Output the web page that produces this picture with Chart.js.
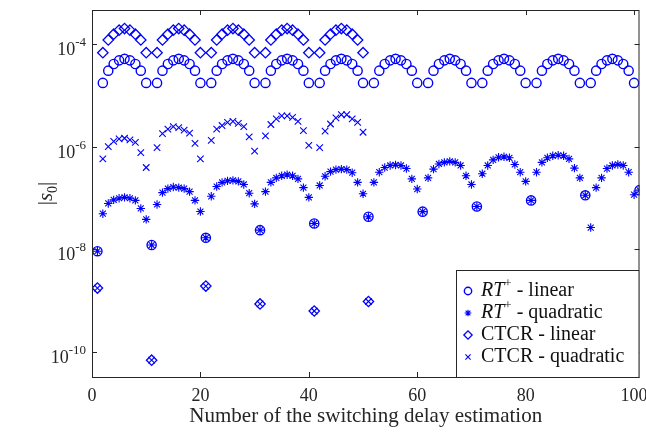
<!DOCTYPE html>
<html>
<head>
<meta charset="utf-8">
<script src="https://cdn.jsdelivr.net/npm/chart.js@4.4.1/dist/chart.umd.min.js"></script>
<style>
  html, body { margin: 0; padding: 0; background: #fff; }
</style>
</head>
<body>
<canvas id="delayChart" width="646" height="438"></canvas>
<script>
// tick positions
const xTicks = [0, 20, 40, 60, 80, 100];
const yTickExp = [-10, -8, -6, -4];

// RT+ linear, estimations 1..101
const rtLinear = [
  9.1e-9,
  1.74e-5, 3.02e-5, 4.07e-5, 4.79e-5, 5.13e-5, 4.79e-5, 4.07e-5, 3.02e-5, 1.74e-5,
  1.2e-8,
  1.74e-5, 3.02e-5, 4.07e-5, 4.79e-5, 5.13e-5, 4.79e-5, 4.07e-5, 3.02e-5, 1.74e-5,
  1.66e-8,
  1.74e-5, 3.02e-5, 4.07e-5, 4.79e-5, 5.13e-5, 4.79e-5, 4.07e-5, 3.02e-5, 1.74e-5,
  2.34e-8,
  1.74e-5, 3.02e-5, 4.07e-5, 4.79e-5, 5.13e-5, 4.79e-5, 4.07e-5, 3.02e-5, 1.74e-5,
  3.16e-8,
  1.74e-5, 3.02e-5, 4.07e-5, 4.79e-5, 5.13e-5, 4.79e-5, 4.07e-5, 3.02e-5, 1.74e-5,
  4.27e-8,
  1.74e-5, 3.02e-5, 4.07e-5, 4.79e-5, 5.13e-5, 4.79e-5, 4.07e-5, 3.02e-5, 1.74e-5,
  5.37e-8,
  1.74e-5, 3.02e-5, 4.07e-5, 4.79e-5, 5.13e-5, 4.79e-5, 4.07e-5, 3.02e-5, 1.74e-5,
  6.76e-8,
  1.74e-5, 3.02e-5, 4.07e-5, 4.79e-5, 5.13e-5, 4.79e-5, 4.07e-5, 3.02e-5, 1.74e-5,
  8.9e-8,
  1.74e-5, 3.02e-5, 4.07e-5, 4.79e-5, 5.13e-5, 4.79e-5, 4.07e-5, 3.02e-5, 1.74e-5,
  1.12e-7,
  1.74e-5, 3.02e-5, 4.07e-5, 4.79e-5, 5.13e-5, 4.79e-5, 4.07e-5, 3.02e-5, 1.74e-5,
  1.41e-7
];

// RT+ quadratic, estimations 1..101
const rtQuadratic = [
  9.1e-9,
  4.9e-8, 7.76e-8, 9.1e-8, 9.8e-8, 1.02e-7, 9.8e-8, 8.9e-8, 6.2e-8, 3.8e-8,
  1.2e-8,
  7.4e-8, 1.26e-7, 1.51e-7, 1.62e-7, 1.58e-7, 1.51e-7, 1.32e-7, 8.9e-8, 5.4e-8,
  1.66e-8,
  1.07e-7, 1.66e-7, 2.0e-7, 2.14e-7, 2.19e-7, 2.09e-7, 1.82e-7, 1.23e-7, 7.6e-8,
  2.34e-8,
  1.32e-7, 2.0e-7, 2.45e-7, 2.69e-7, 2.82e-7, 2.69e-7, 2.34e-7, 1.58e-7, 1.02e-7,
  3.16e-8,
  1.74e-7, 2.63e-7, 3.24e-7, 3.55e-7, 3.63e-7, 3.55e-7, 3.09e-7, 2.0e-7, 1.2e-7,
  4.27e-8,
  2.0e-7, 3.16e-7, 3.89e-7, 4.27e-7, 4.37e-7, 4.27e-7, 3.72e-7, 2.34e-7, 1.48e-7,
  5.37e-8,
  2.45e-7, 3.63e-7, 4.57e-7, 4.9e-7, 5.13e-7, 4.9e-7, 4.27e-7, 2.69e-7, 1.82e-7,
  6.76e-8,
  2.95e-7, 4.27e-7, 5.5e-7, 6.17e-7, 6.31e-7, 6.03e-7, 4.47e-7, 3.16e-7, 2.09e-7,
  8.9e-8,
  3.16e-7, 4.9e-7, 6.03e-7, 6.6e-7, 6.76e-7, 6.6e-7, 5.75e-7, 3.8e-7, 2.45e-7,
  1.12e-7,
  2.63e-8, 1.58e-7, 2.45e-7, 3.72e-7, 4.27e-7, 4.47e-7, 4.27e-7, 3.16e-7, 1.15e-7,
  1.41e-7
];

// CTCR linear, estimations 1..51
const ctcrLinear = [
  1.74e-9,
  6.76e-5, 1.2e-4, 1.55e-4, 1.86e-4, 2.0e-4, 1.86e-4, 1.55e-4, 1.2e-4, 6.76e-5,
  6.8e-11,
  6.76e-5, 1.2e-4, 1.55e-4, 1.86e-4, 2.0e-4, 1.86e-4, 1.55e-4, 1.2e-4, 6.76e-5,
  1.9e-9,
  6.76e-5, 1.2e-4, 1.55e-4, 1.86e-4, 2.0e-4, 1.86e-4, 1.55e-4, 1.2e-4, 6.76e-5,
  8.5e-10,
  6.76e-5, 1.2e-4, 1.55e-4, 1.86e-4, 2.0e-4, 1.86e-4, 1.55e-4, 1.2e-4, 6.76e-5,
  6.2e-10,
  6.76e-5, 1.2e-4, 1.55e-4, 1.86e-4, 2.0e-4, 1.86e-4, 1.55e-4, 1.2e-4, 6.76e-5,
  9.5e-10
];

// CTCR quadratic, estimations 1..51
const ctcrQuadratic = [
  1.74e-9,
  5.75e-7, 1.0e-6, 1.26e-6, 1.41e-6, 1.45e-6, 1.35e-6, 1.2e-6, 7.6e-7, 3.9e-7,
  6.8e-11,
  9.5e-7, 1.78e-6, 2.19e-6, 2.45e-6, 2.34e-6, 2.09e-6, 1.82e-6, 1.15e-6, 5.75e-7,
  1.9e-9,
  1.32e-6, 2.19e-6, 2.57e-6, 2.95e-6, 3.09e-6, 2.82e-6, 2.45e-6, 1.55e-6, 8.1e-7,
  8.5e-10,
  1.62e-6, 2.69e-6, 3.47e-6, 3.98e-6, 3.98e-6, 3.72e-6, 3.09e-6, 2.04e-6, 1.05e-6,
  6.2e-10,
  9.5e-7, 2.0e-6, 2.75e-6, 3.63e-6, 4.17e-6, 4.17e-6, 3.47e-6, 2.95e-6, 1.9e-6,
  9.5e-10
];

const blue = 'rgb(0,0,255)';
const axisColor = '#262626';
const serif = '"Liberation Serif", "Times New Roman", serif';

const toPoints = arr => arr.map((v, i) => ({ x: i + 1, y: v }));

const seriesInfo = [
  { data: rtLinear, style: 'circle', r: 4.6, bw: 1.4, label: ['RT', '+', ' - linear'] },
  { data: rtQuadratic, style: 'star', r: 4.2, bw: 1.1, label: ['RT', '+', ' - quadratic'] },
  { data: ctcrLinear, style: 'rectRot', r: 5.2, bw: 1.3, label: ['', '', 'CTCR - linear'] },
  { data: ctcrQuadratic, style: 'crossRot', r: 4.6, bw: 1.1, label: ['', '', 'CTCR - quadratic'] }
];

// frame, ticks, labels and legend in MATLAB look
const matlabAxes = {
  id: 'matlabAxes',
  afterDraw(chart) {
    const { ctx, chartArea: a, scales: { x, y } } = chart;
    ctx.save();
    ctx.strokeStyle = axisColor;
    ctx.lineWidth = 1;
    ctx.strokeRect(a.left + 0.5, a.top + 0.5, a.right - a.left - 1, a.bottom - a.top);

    const tl = 5;
    ctx.beginPath();
    xTicks.forEach(t => {
      const px = Math.round(x.getPixelForValue(t)) + 0.5;
      ctx.moveTo(px, a.bottom); ctx.lineTo(px, a.bottom - tl);
      ctx.moveTo(px, a.top); ctx.lineTo(px, a.top + tl);
    });
    yTickExp.forEach(e => {
      const py = Math.round(y.getPixelForValue(Math.pow(10, e))) + 0.5;
      ctx.moveTo(a.left, py); ctx.lineTo(a.left + tl, py);
      ctx.moveTo(a.right, py); ctx.lineTo(a.right - tl, py);
    });
    ctx.stroke();

    ctx.fillStyle = axisColor;
    ctx.font = '18px ' + serif;
    ctx.textAlign = 'center';
    ctx.textBaseline = 'alphabetic';
    xTicks.forEach(t => {
      ctx.fillText(String(t), x.getPixelForValue(t), a.bottom + 24);
    });

    yTickExp.forEach(e => {
      const py = y.getPixelForValue(Math.pow(10, e));
      ctx.font = '13px ' + serif;
      const expTxt = '-' + Math.abs(e);
      const wExp = ctx.measureText(expTxt).width;
      ctx.font = '18px ' + serif;
      const wBase = ctx.measureText('10').width;
      const right = a.left - 6;
      ctx.textAlign = 'left';
      ctx.fillText('10', right - wExp - wBase, py + 11);
      ctx.font = '13px ' + serif;
      ctx.fillText(expTxt, right - wExp, py + 2);
    });

    // x title
    ctx.font = '21px ' + serif;
    ctx.textAlign = 'center';
    ctx.fillText('Number of the switching delay estimation', (a.left + a.right) / 2, a.bottom + 45);

    // y title |s0|
    ctx.save();
    ctx.translate(52, (a.top + a.bottom) / 2);
    ctx.rotate(-Math.PI / 2);
    ctx.textAlign = 'left';
    ctx.font = '21px ' + serif;
    const w1 = ctx.measureText('|').width;
    ctx.font = 'italic 21px ' + serif;
    const w2 = ctx.measureText('s').width;
    ctx.font = '14px ' + serif;
    const w3 = ctx.measureText('0').width;
    const total = w1 * 2 + w2 + w3;
    let cx = -total / 2;
    ctx.font = '21px ' + serif;
    ctx.fillText('|', cx, 0); cx += w1;
    ctx.font = 'italic 21px ' + serif;
    ctx.fillText('s', cx, 0); cx += w2;
    ctx.font = '14px ' + serif;
    ctx.fillText('0', cx, 5); cx += w3;
    ctx.font = '21px ' + serif;
    ctx.fillText('|', cx, 0);
    ctx.restore();

    // legend box
    const lb = { left: 456, top: 270, right: a.right, bottom: a.bottom };
    ctx.fillStyle = '#fff';
    ctx.fillRect(lb.left, lb.top, lb.right - lb.left, lb.bottom - lb.top);
    ctx.strokeStyle = axisColor;
    ctx.strokeRect(lb.left + 0.5, lb.top + 0.5, lb.right - lb.left - 1, lb.bottom - lb.top);

    const rowY = [291, 313, 335, 357];
    seriesInfo.forEach((s, i) => {
      const ry = rowY[i];
      ctx.strokeStyle = blue;
      ctx.fillStyle = 'rgba(0,0,0,0)';
      ctx.lineWidth = s.bw;
      Chart.helpers.drawPoint(ctx, { pointStyle: s.style, radius: s.r * 0.8, rotation: 0, borderWidth: s.bw }, 468, ry);
      ctx.fillStyle = '#111';
      ctx.textAlign = 'left';
      ctx.textBaseline = 'middle';
      let tx = 481;
      if (s.label[0]) {
        ctx.font = 'italic 20px ' + serif;
        ctx.fillText(s.label[0], tx, ry);
        tx += ctx.measureText(s.label[0]).width;
        ctx.font = '13px ' + serif;
        ctx.fillText(s.label[1], tx, ry - 7);
        tx += ctx.measureText(s.label[1]).width;
      }
      ctx.font = '20px ' + serif;
      ctx.fillText(s.label[2], tx, ry);
    });
    ctx.restore();
  }
};

new Chart(document.getElementById('delayChart'), {
  type: 'scatter',
  data: {
    datasets: seriesInfo.map(s => ({
      data: toPoints(s.data),
      showLine: false,
      pointStyle: s.style,
      pointRadius: s.r,
      pointHoverRadius: s.r,
      pointBorderWidth: s.bw,
      borderColor: blue,
      backgroundColor: 'rgba(0,0,0,0)',
      pointBackgroundColor: 'rgba(0,0,0,0)'
    }))
  },
  options: {
    responsive: false,
    devicePixelRatio: 1,
    animation: false,
    layout: { padding: { left: 92, right: 6, top: 10, bottom: 61 } },
    plugins: { legend: { display: false }, tooltip: { enabled: false } },
    scales: {
      x: { type: 'linear', min: 0, max: 101, display: false },
      y: { type: 'logarithmic', min: 3.2e-11, max: 4.6e-4, display: false }
    }
  },
  plugins: [matlabAxes]
});
</script>
</body>
</html>
